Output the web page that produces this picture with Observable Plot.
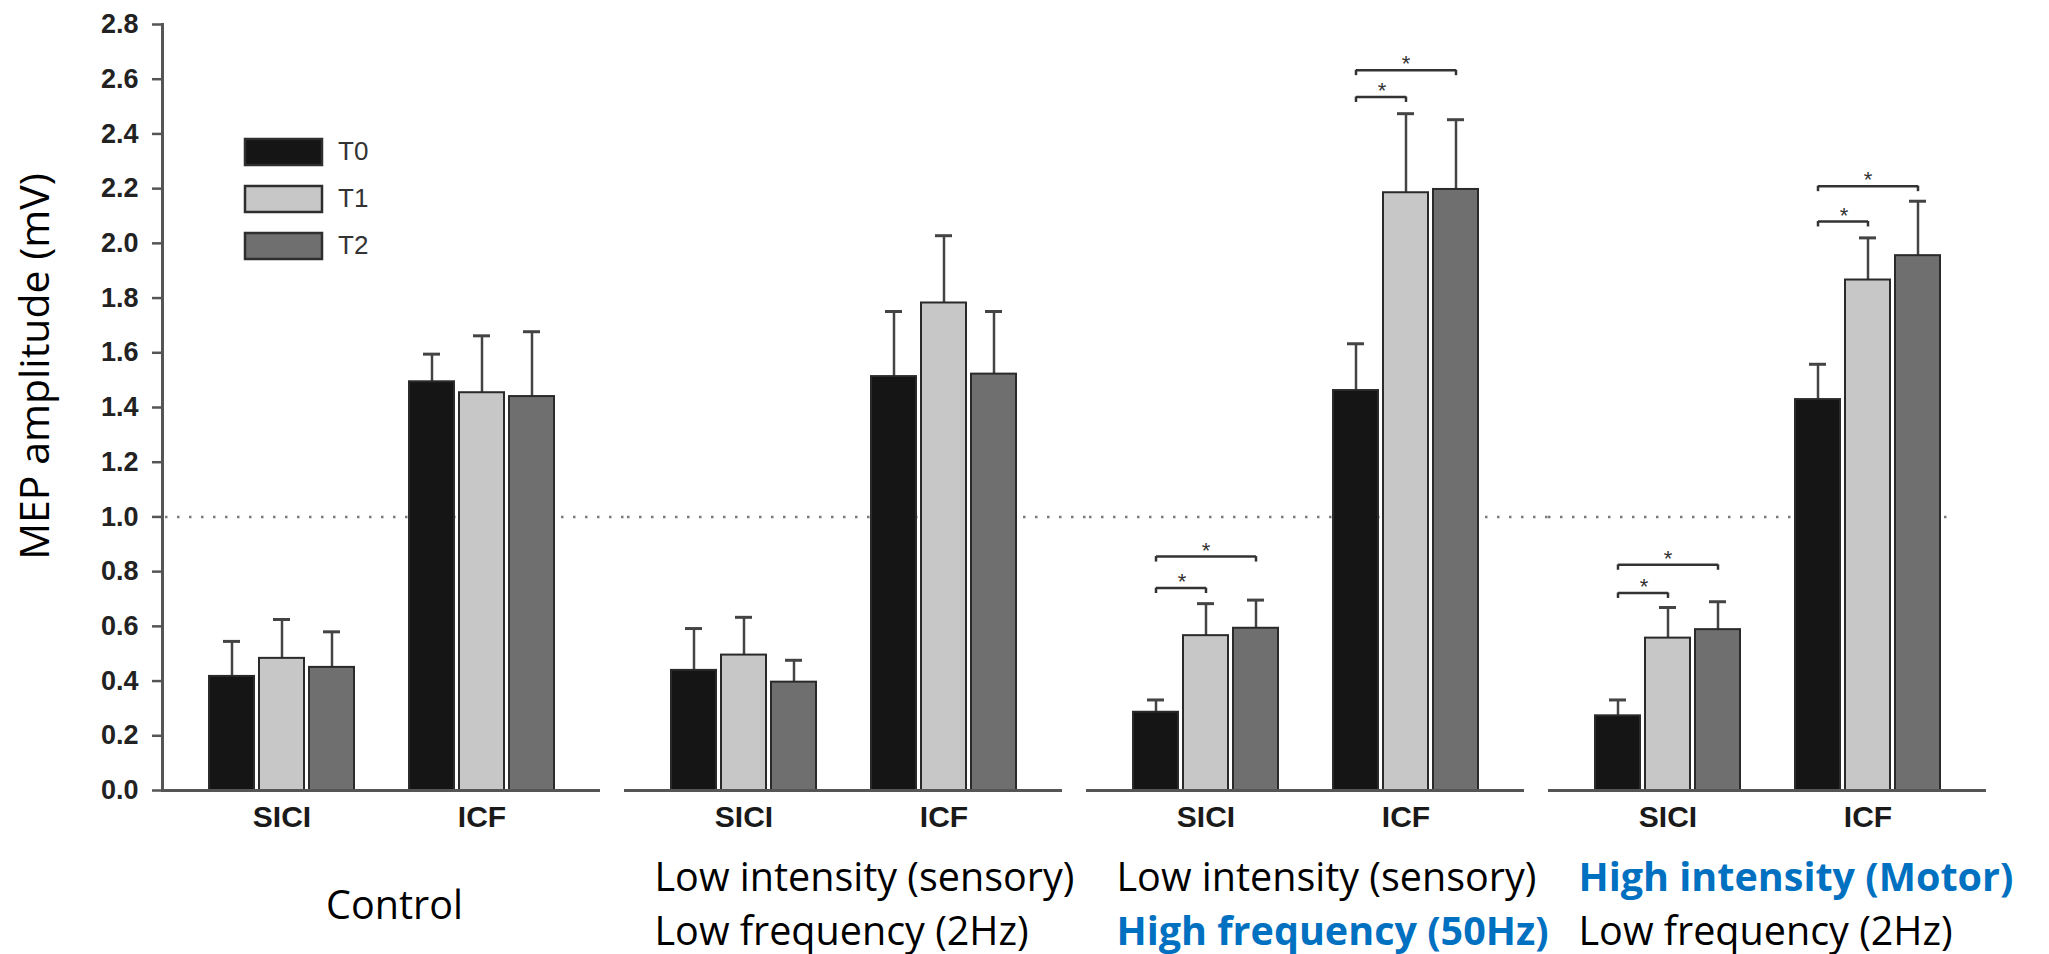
<!DOCTYPE html>
<html>
<head>
<meta charset="utf-8">
<script src="https://cdn.jsdelivr.net/npm/d3@7"></script>
<script src="https://cdn.jsdelivr.net/npm/@observablehq/plot@0.6"></script>
<style>
  body { margin: 0; background: #fff; }
  #wrap { position: relative; width: 2049px; height: 954px; }
  #legend { position: absolute; left: 245px; top: 136px; }
  .tl-swatch { padding-bottom: 16px !important; }
  .tl-swatch svg { margin-right: 16px !important; overflow: visible !important; }
  .tl-swatch rect { stroke: #2e2e2e; stroke-width: 2.5px; }
  .tl-swatch-label { font: 26px "Liberation Sans", Arial, sans-serif; color: #333; }
</style>
</head>
<body>
<div id="wrap"><div id="chart"></div><div id="legend"></div></div>
<script>
// ---------- data ----------
const panels = ["Control", "LowIntLowFreq", "LowIntHighFreq", "HighIntLowFreq"];
const measures = ["SICI", "ICF"];
const times = ["T0", "T1", "T2"];
const timeColors = ["#151515", "#c7c7c7", "#6f6f6f"];
const yTicks = [0, 0.2, 0.4, 0.6, 0.8, 1.0, 1.2, 1.4, 1.6, 1.8, 2.0, 2.2, 2.4, 2.6, 2.8];
const referenceLevel = 1.0;

// order: SICI T0, T1, T2, ICF T0, T1, T2
const controlMean      = [0.417, 0.483, 0.450, 1.494, 1.454, 1.440];
const controlSem       = [0.128, 0.142, 0.130, 0.101, 0.208, 0.237];
const lowIntLowFreqMean  = [0.439, 0.495, 0.396, 1.513, 1.782, 1.522];
const lowIntLowFreqSem   = [0.153, 0.138, 0.080, 0.238, 0.246, 0.229];
const lowIntHighFreqMean = [0.286, 0.566, 0.593, 1.462, 2.185, 2.197];
const lowIntHighFreqSem  = [0.045, 0.117, 0.103, 0.171, 0.289, 0.255];
const highIntLowFreqMean = [0.273, 0.557, 0.588, 1.429, 1.866, 1.955];
const highIntLowFreqSem  = [0.058, 0.112, 0.102, 0.129, 0.154, 0.199];

// significance brackets (T0 vs T1, T0 vs T2)
const bracketPanel   = ["LowIntHighFreq", "LowIntHighFreq", "LowIntHighFreq", "LowIntHighFreq",
                        "HighIntLowFreq", "HighIntLowFreq", "HighIntLowFreq", "HighIntLowFreq"];
const bracketMeasure = ["SICI", "SICI", "ICF", "ICF", "SICI", "SICI", "ICF", "ICF"];
const bracketTo      = ["T1", "T2", "T1", "T2", "T1", "T2", "T1", "T2"];
const bracketLevel   = [0.740, 0.855, 2.535, 2.633, 0.722, 0.825, 2.080, 2.209];

// condition labels under each panel
const panelLine1 = ["", "Low intensity (sensory)", "Low intensity (sensory)", "High intensity (Motor)"];
const panelLine2 = ["", "Low frequency (2Hz)", "High frequency (50Hz)", "Low frequency (2Hz)"];
const panelLine1Bold = [false, false, false, true];
const panelLine2Bold = [false, false, true, false];
const controlLabel = "Control";
const yLabel = "MEP amplitude (mV)";

// ---------- tables ----------
const meanTable = [controlMean, lowIntLowFreqMean, lowIntHighFreqMean, highIntLowFreqMean];
const semTable = [controlSem, lowIntLowFreqSem, lowIntHighFreqSem, highIntLowFreqSem];
const bars = [];
panels.forEach((p, pi) => measures.forEach((m, mi) => times.forEach((t, ti) => {
  const k = mi * 3 + ti;
  bars.push({panel: p, measure: m, time: t, key: `${m} ${t}`,
             mean: meanTable[pi][k], top: meanTable[pi][k] + semTable[pi][k]});
})));
const xDomain = ["SICI T0", "SICI T1", "SICI T2", "gap", "ICF T0", "ICF T1", "ICF T2"];

const brackets = bracketPanel.map((p, i) => ({
  panel: p, from: `${bracketMeasure[i]} T0`, to: `${bracketMeasure[i]} ${bracketTo[i]}`,
  mid: `${bracketMeasure[i]} T1`, level: bracketLevel[i], inner: bracketTo[i] === "T1"
}));
const bracketEnds = brackets.flatMap(b => [{panel: b.panel, key: b.from, level: b.level},
                                            {panel: b.panel, key: b.to, level: b.level}]);
const groupLabels = panels.flatMap(p => measures.map(m => ({panel: p, measure: m, key: `${m} T1`})));
const panelInfo = panels.map((p, i) => ({panel: p, line1: panelLine1[i], line2: panelLine2[i],
  bold1: panelLine1Bold[i], bold2: panelLine2Bold[i]}));
const refRows = panels.map((p, i) => ({panel: p, v: referenceLevel, last: i === panels.length - 1}));

const sans = "'Open Sans', 'Noto Sans', sans-serif";
const blue = "#0070c0";
const noteSize = 39.5;
const line1Dy = 100;
const line2Dy = 154;

const chart = Plot.plot({
  width: 2049,
  height: 954,
  marginLeft: 160,
  marginRight: 61,
  marginTop: 24,
  marginBottom: 164,
  style: {fontFamily: "'Liberation Sans', Arial, sans-serif", background: "#fff", overflow: "visible"},
  fx: {domain: panels, paddingInner: 0.0518, paddingOuter: 0, axis: null, label: null},
  x: {type: "band", domain: xDomain, paddingInner: 0.106, paddingOuter: 0.865, axis: null},
  y: {domain: [0, 2.8]},
  color: {domain: times, range: timeColors},
  marks: [
    Plot.ruleY(refRows.filter(d => !d.last), {fx: "panel", y: "v", stroke: "#7a7a7a", strokeWidth: 2.5,
      strokeDasharray: "2.5 9.5", insetLeft: 3, insetRight: -24}),
    Plot.ruleY(refRows.filter(d => d.last), {fx: "panel", y: "v", stroke: "#7a7a7a", strokeWidth: 2.5,
      strokeDasharray: "2.5 9.5", insetRight: 30}),
    Plot.ruleX(bars, {fx: "panel", x: "key", y1: "mean", y2: "top", stroke: "#444", strokeWidth: 2.5}),
    Plot.tickY(bars, {fx: "panel", x: "key", y: "top", stroke: "#444", strokeWidth: 3, insetLeft: 14, insetRight: 14}),
    Plot.barY(bars, {fx: "panel", x: "key", y: "mean", fill: "time", stroke: "#2a2a2a", strokeWidth: 2}),
    Plot.ruleY([0], {stroke: "#555", strokeWidth: 3}),
    Plot.frame({anchor: "left", facetAnchor: "left", stroke: "#555", strokeWidth: 3}),
    Plot.axisY({ticks: yTicks, tickFormat: d3.format(".1f"), tickSize: 10, tickPadding: 14,
      fontSize: 27, fontWeight: "bold", stroke: "#555", strokeWidth: 2.5, fill: "#222", label: null}),
    // brackets
    Plot.link(brackets, {fx: "panel", x1: "from", x2: "to", y1: "level", y2: "level", stroke: "#333", strokeWidth: 2.5}),
    Plot.ruleX(bracketEnds, {fx: "panel", x: "key", y1: "level", y2: d => d.level - 0.02, stroke: "#333", strokeWidth: 2.5}),
    Plot.text(brackets.filter(b => !b.inner), {fx: "panel", x: "mid", y: "level", text: () => "*", dy: -6,
      fontSize: 22, fill: "#333"}),
    Plot.text(brackets.filter(b => b.inner), {fx: "panel", x: "from", y: "level", text: () => "*", dx: 26, dy: -6,
      fontSize: 22, fill: "#333"}),
    // group labels
    Plot.text(groupLabels, {fx: "panel", x: "key", text: "measure", frameAnchor: "bottom", dy: 36,
      fontSize: 30, fontWeight: "bold", fill: "#1a1a1a"}),
    // y label
    Plot.text([yLabel], {fx: () => panels[0], text: d => d, frameAnchor: "left", textAnchor: "middle",
      rotate: -90, dx: -127, dy: -41, fontFamily: sans, fontSize: 41, fill: "#000"}),
    // condition labels
    Plot.text([controlLabel], {fx: () => panels[0], text: d => d, frameAnchor: "bottom", dx: 13, dy: 128,
      lineAnchor: "bottom", fontFamily: sans, fontSize: noteSize, fill: "#000"}),
    Plot.text(panelInfo.filter(d => d.line1 && !d.bold1), {fx: "panel", text: "line1", frameAnchor: "bottom-left",
      textAnchor: "start", lineAnchor: "bottom", dx: 30, dy: line1Dy, fontFamily: sans, fontSize: noteSize, fill: "#000"}),
    Plot.text(panelInfo.filter(d => d.line1 && d.bold1), {fx: "panel", text: "line1", frameAnchor: "bottom-left",
      textAnchor: "start", lineAnchor: "bottom", dx: 30, dy: line1Dy, fontFamily: sans, fontSize: noteSize, fontWeight: "bold", fill: blue}),
    Plot.text(panelInfo.filter(d => d.line2 && !d.bold2), {fx: "panel", text: "line2", frameAnchor: "bottom-left",
      textAnchor: "start", lineAnchor: "bottom", dx: 30, dy: line2Dy, fontFamily: sans, fontSize: noteSize, fill: "#000"}),
    Plot.text(panelInfo.filter(d => d.line2 && d.bold2), {fx: "panel", text: "line2", frameAnchor: "bottom-left",
      textAnchor: "start", lineAnchor: "bottom", dx: 30, dy: line2Dy, fontFamily: sans, fontSize: noteSize, fontWeight: "bold", fill: blue})
  ]
});
document.getElementById("chart").append(chart);

const legend = Plot.legend({
  color: {domain: times, range: timeColors},
  legend: "swatches",
  columns: 1,
  swatchWidth: 77,
  swatchHeight: 26,
  className: "tl"
});
document.getElementById("legend").append(legend);
</script>
</body>
</html>
